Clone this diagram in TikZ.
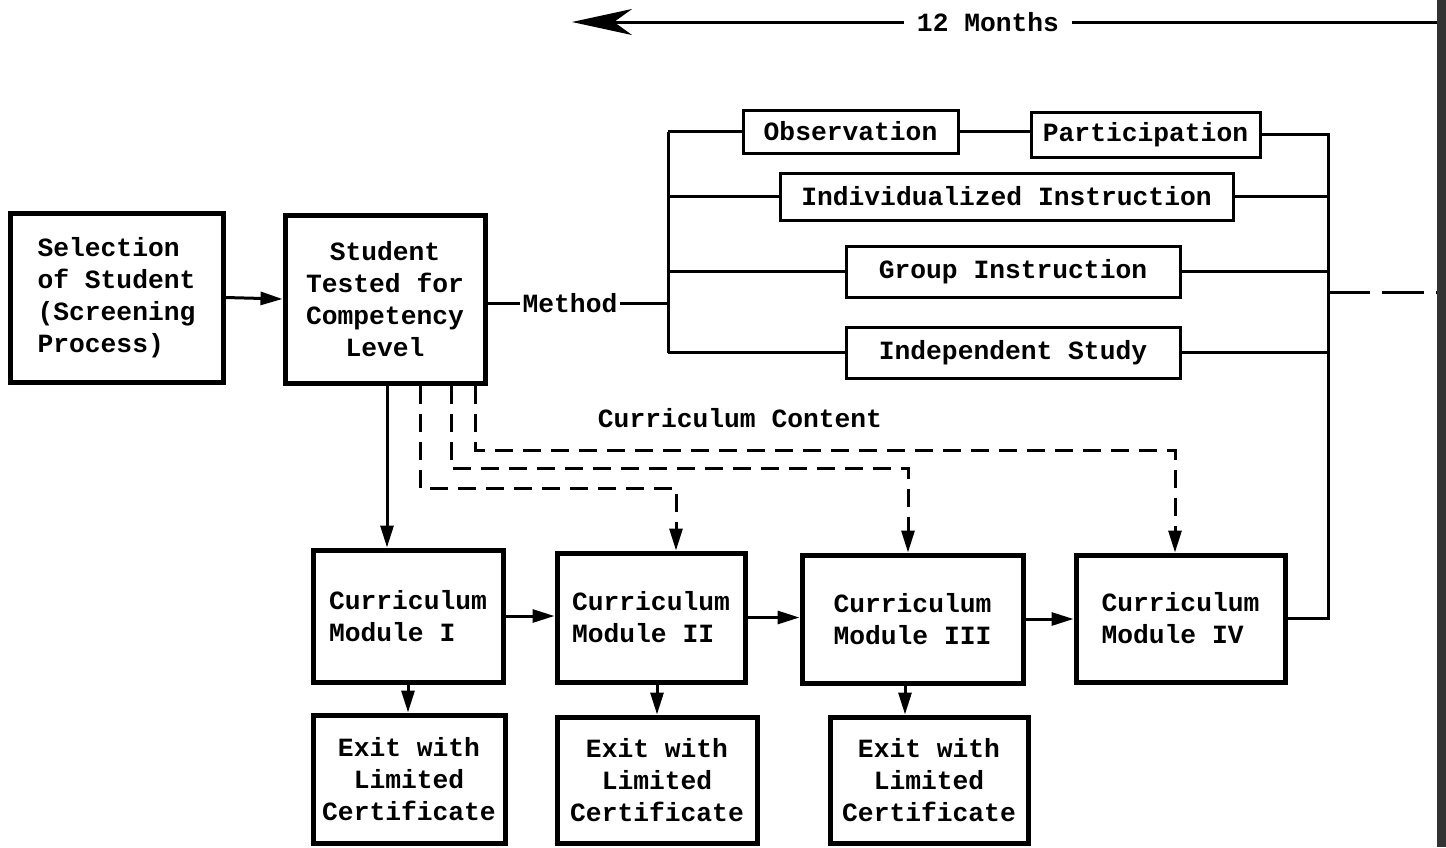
\documentclass[tikz,border=0pt]{standalone}
\usepackage{fontspec}
\setmainfont{Liberation Mono}
\usetikzlibrary{arrows.meta}
\begin{document}
\begin{tikzpicture}[x=1pt,y=-1pt,
  font=\fontsize{26.3}{32}\selectfont\bfseries,
  bigbox/.style={draw,line width=5pt,inner sep=0pt,align=center},
  mbox/.style={draw,line width=3pt,inner sep=0pt,align=center},
  conn/.style={line width=3pt},
  arr/.style={line width=3pt,-{Triangle[length=22pt,width=13pt]}},
  dsh/.style={line width=3pt,dash pattern=on 18pt off 10pt},
  dsharr/.style={dsh,-{Triangle[length=22pt,width=13pt]}},
  sdsharr/.style={line width=3pt,dash pattern=on 9pt off 5pt,-{Triangle[length=22pt,width=13pt]}}]
\useasboundingbox (0,0) rectangle (1446,847);

% right edge border
\draw[line width=9pt,black!80] (1441,0) -- (1441,847);

% top arrow
\node[inner xsep=13pt] (months) at (988,22) {12 Months};
\coordinate (tstart) at (1437,22);
\coordinate (ttip) at (572,22);
\draw[conn] (tstart) -- (months.east);
\draw[conn,-{Stealth[length=60pt,width=26pt,inset=18pt]}] (months.west) -- (ttip);

% main boxes
\node[bigbox,minimum width=213pt,minimum height=169pt,align=left] (sel) at (116.5,297.5) {Selection\\of\ Student\\(Screening\\Process)};
\node[bigbox,minimum width=200pt,minimum height=168pt] (stu) at (385,299) {Student\\Tested for\\Competency\\Level};

% method boxes
\node[mbox,minimum width=215pt,minimum height=43pt] (obs) at (850.5,131.5) {Observation};
\node[mbox,minimum width=229pt,minimum height=45pt] (par) at (1145.5,134.5) {Participation};
\node[mbox,minimum width=453pt,minimum height=47pt] (ind) at (1006.5,196.5) {Individualized Instruction};
\node[mbox,minimum width=334pt,minimum height=51pt] (grp) at (1013,271.5) {Group Instruction};
\node[mbox,minimum width=334pt,minimum height=51pt] (ist) at (1013,352.5) {Independent Study};

% modules
\node[bigbox,minimum width=190pt,minimum height=132pt,align=left] (m1) at (408,616) {Curriculum\\Module I};
\node[bigbox,minimum width=188pt,minimum height=129pt,align=left] (m2) at (651,617.5) {Curriculum\\Module II};
\node[bigbox,minimum width=221pt,minimum height=128pt,align=left] (m3) at (912.5,619) {Curriculum\\Module III};
\node[bigbox,minimum width=209pt,minimum height=127pt,align=left] (m4) at (1180.5,618.5) {Curriculum\\Module IV};

% exits
\node[bigbox,minimum width=192pt,minimum height=128pt] (e1) at (409,779) {Exit with\\Limited\\Certificate};
\node[bigbox,minimum width=200pt,minimum height=126pt] (e2) at (657,780) {Exit with\\Limited\\Certificate};
\node[bigbox,minimum width=198pt,minimum height=126pt] (e3) at (929,780) {Exit with\\Limited\\Certificate};

% labels
\node[inner xsep=2pt] (method) at (570,303) {Method};
\node (cc) at (740,418) {Curriculum Content};

% selection -> student
\draw[arr] (sel.east) -- (stu.west);

% method bus
\draw[conn] (stu.east |- method) -- (method.west);
\coordinate (lbtop) at (668,131.5);
\coordinate (lbbot) at (668,352.5);
\draw[conn] (method.east) -- (method.east -| lbtop);
\draw[conn] (lbtop) -- (lbbot);
\draw[conn] (lbtop) -- (obs.west);
\draw[conn] (obs.east) -- (obs.east -| par.west);
\draw[conn] (ind.west -| lbtop) -- (ind.west);
\draw[conn] (grp.west -| lbtop) -- (grp.west);
\draw[conn] (lbbot) -- (ist.west);

\coordinate (rbtop) at (1328,134.5);
\coordinate (rbbot) at (1328,618.5);
\draw[conn] (par.east) -- (rbtop) -- (rbbot) -- (m4.east);
\draw[conn] (ind.east) -- (ind.east -| rbtop);
\draw[conn] (grp.east) -- (grp.east -| rbtop);
\draw[conn] (ist.east) -- (ist.east -| rbtop);
\coordinate (rdash) at (1328,292);
\coordinate (edge) at (1437,292);
\draw[line width=3pt,dash pattern=on 42pt off 12pt] (rdash) -- (edge);

% student -> modules
\draw[arr] ([xshift=2pt]stu.south) -- ([xshift=-21pt]m1.north);
\draw[dsharr] ([xshift=35pt]stu.south) |- (676,488) -- ([xshift=25pt]m2.north);
\draw[dsharr] ([xshift=66pt]stu.south) |- (908,468) -- ([xshift=-4.5pt]m3.north);
\draw[dsharr] ([xshift=90pt]stu.south) |- (1175,450) -- ([xshift=-5.5pt]m4.north);

% module chain
\draw[arr] (m1.east) -- (m1.east -| m2.west);
\draw[arr] (m2.east) -- (m2.east -| m3.west);
\draw[arr] (m3.east) -- (m3.east -| m4.west);

% module -> exits
\draw[sdsharr] (m1.south) -- (e1.north -| m1.south);
\draw[sdsharr] (m2.south -| e2.north) -- (e2.north);
\draw[sdsharr] ([xshift=-7.5pt]m3.south) -- ([xshift=-7.5pt]m3.south |- e3.north);
\end{tikzpicture}
\end{document}
